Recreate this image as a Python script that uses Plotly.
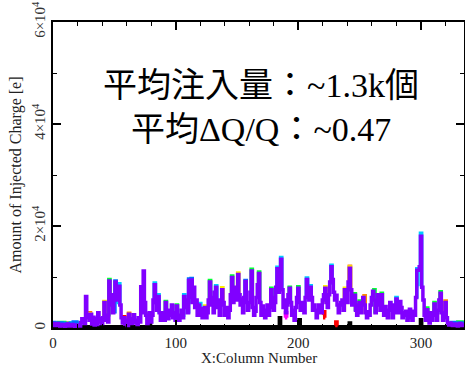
import plotly.graph_objects as go

# ---------------- data ----------------
columns = list(range(336))
purple_vals = [
    900, 700, 500, 700, 900, 600, 400, 550, 700, 500,
    300, 550, 800, 600, 400, 550, 700, 500, 300, 450,
    600, 500, 400, 1100, 1800, 1300, 900, 6200, 2000, 2600,
    1500, 2700, 800, 2100, 600, 1800, 700, 3000, 1200, 1800,
    900, 2000, 5000, 1500, 2500, 1200, 9200, 4500, 6500, 3000,
    6000, 9000, 5500, 7500, 8200, 4500, 2000, 1000, 2000, 800,
    1500, 500, 2700, 1200, 900, 1800, 2600, 1000, 1500, 700,
    2000, 1200, 8100, 3000, 11200, 5000, 2500, 900, 2400, 3000,
    1200, 2500, 5500, 8500, 5000, 3500, 6200, 3000, 1500, 2500,
    3000, 1500, 5000, 3500, 1800, 2500, 3500, 4500, 2000, 3000,
    1500, 4300, 2500, 1500, 2500, 3500, 2000, 6200, 4000, 5500,
    3000, 9300, 6000, 9400, 5000, 8000, 4000, 5500, 2500, 4500,
    2500, 3800, 2000, 3500, 4000, 2000, 3000, 5500, 9000, 4500,
    6000, 3000, 7000, 8000, 4000, 5500, 2500, 4500, 7500, 5000,
    2500, 3000, 4000, 2000, 3500, 6500, 9900, 5000, 6500, 8000,
    5500, 10500, 6500, 4500, 5700, 3000, 6000, 9100, 5000, 3500,
    5000, 7000, 11200, 4000, 2500, 3300, 6000, 8500, 10700, 5000,
    2500, 4300, 3000, 2000, 3500, 4500, 2500, 4000, 7500, 6000,
    3500, 5000, 8000, 11600, 7000, 9000, 13500, 7500, 4000, 5500,
    3000, 4500, 6500, 7800, 5000, 2500, 3500, 1500, 4000, 6000,
    7800, 5000, 3500, 4500, 5000, 3000, 6000, 9500, 7000, 5500,
    8000, 6000, 3500, 4500, 3500, 2000, 3000, 4500, 4500, 3000,
    5500, 6500, 7800, 5000, 4000, 6500, 9000, 12000, 9500, 7000,
    5500, 6400, 4500, 3000, 4500, 5000, 5500, 3500, 7500, 6000,
    5000, 9000, 11700, 7500, 4500, 5500, 6400, 3500, 2500, 4500,
    5000, 3000, 4500, 6000, 4500, 3000, 2000, 3200, 2500, 4500,
    6000, 7200, 5500, 3000, 4500, 6500, 5000, 3500, 6500, 4000,
    2500, 4200, 3000, 2000, 3500, 5000, 3500, 2000, 4500, 3000,
    5700, 4000, 3000, 5200, 4000, 2000, 3000, 2500, 3300, 1500,
    2500, 3700, 2000, 1500, 3300, 2500, 6000, 11300, 11300, 12000,
    18000, 8000, 5500, 2500, 1500, 3600, 2000, 1000, 3000, 1500,
    2500, 4700, 3000, 1500, 3500, 5500, 6800, 3000, 1500, 3000,
    5000, 2000, 1000, 600, 1000, 700, 500, 650, 800, 600,
    400, 650, 900, 700, 500, 600,
]

black_cols = [0, 78, 79, 80, 184, 185, 186, 200, 201, 202, 241, 242, 243, 299, 300, 301, 335]
black_vals = [250, 250, 2800, 250, 250, 2000, 250, 250, 1600, 250, 250, 1000, 250, 250, 1600, 250, 250]

cyan_cols = [0, 4, 8, 12, 16, 20, 24, None, 52, 53, 54, 55, None, 82, 83, 84, None, 85, 86, 87, None,
             106, 107, 108, None, 119, 120, 121, None, 132, 133, 134, None, 182, 183, 184, None,
             185, 186, 187, None, 206, 207, 208, None, 209, 210, 211, None, 226, 227, 228, None,
             279, 280, 281, None, 296, 297, 298, None, 299, 300, 301]
cyan_vals = [1000, 700, 900, 600, 1000, 700, 900, None, 5000, 8000, 8700, 4800, None, 5000, 8800, 5200, None,
             3800, 6500, 3200, None, 2500, 6500, 4200, None, 2800, 4800, 3000, None, 6500, 8300, 4200, None,
             7500, 11900, 7500, None, 9000, 13800, 7800, None, 6000, 9800, 7200, None, 5800, 8300, 6200, None,
             8800, 12300, 9800, None, 3200, 6000, 4200, None, 6200, 11600, 8200, None, 12200, 18600, 8200]

blue_cols = [0, 3, 6, 9, 12, 15, 18, 21, None, 50, 51, 52, None, 110, 111, 112, None, 112, 113, 114, None,
             156, 157, 158, None, 323, 326, 329, 332, 335]
blue_vals = [1100, 600, 1000, 500, 900, 600, 1200, 700, None, 3200, 9200, 5600, None, 3200, 9600, 6200, None,
             6000, 9700, 5200, None, 6200, 9300, 5200, None, 900, 1100, 600, 1000, 700]

green_cols = [2, 7, 12, 17, 22, None, 45, 46, 47, None, 91, 92, 93, None, 100, 101, 102, None, 127, 128, 129, None,
              145, 146, 147, None, 161, 162, 163, None, 167, 168, 169, None, 177, 178, 179, None,
              192, 193, 194, None, 199, 200, 201, None, 245, 246, 247, None, 249, 250, 251, None,
              261, 262, 263, None, 267, 268, 269, None, 304, 305, 306, None, 310, 311, 312, None,
              315, 316, 317, None, 324, 328, 332, 335]
green_vals = [800, 1100, 700, 1000, 900, None, 2600, 9500, 4700, None, 1600, 5200, 3700, None, 1600, 4500, 2600, None,
              5600, 9300, 4700, None, 6600, 10200, 5200, None, 7200, 11500, 4200, None, 8700, 11000, 5200, None,
              4200, 7800, 6200, None, 6700, 8000, 5200, None, 6200, 8100, 5200, None, 5600, 6700, 3700, None,
              4600, 5300, 3200, None, 5700, 7500, 3200, None, 3700, 6800, 4200, None, 1700, 3900, 2200, None,
              2700, 5000, 3200, None, 5700, 7100, 3200, None, 1000, 800, 1200, 700]

yellow_cols = [29, 30, 31, None, 41, 42, 43, None, 123, 124, 125, None, 137, 138, 139, None, 150, 151, 152, None,
               221, 222, 223, None, 237, 238, 239, None, 241, 242, 243]
yellow_vals = [2700, 2900, 2800, None, 1700, 5200, 1700, None, 3700, 4300, 2200, None, 4700, 7900, 5200, None,
               5700, 10800, 6700, None, 6700, 8100, 5200, None, 3700, 7800, 6200, None, 9200, 11950, 7700]

orange_cols = [5, 10, 15, 20, None, 61, 62, 63, None, 241, 242, 243, None, 253, 254, 255, None, 319, 320, 321,
               None, 326, 330, 334]
orange_vals = [700, 1000, 600, 900, None, 1300, 2900, 1300, None, 9300, 12100, 7700, None, 4700, 6300, 3200, None,
               3200, 5300, 2200, None, 900, 600, 1000]

red_cols = [29, 30, 31, None, 57, 58, 59, None, 220, 221, 222, None, 230, 231, 232]
red_vals = [2700, 3000, 1600, None, 1000, 2200, 900, None, 2600, 3200, 2000, None, 500, 1200, 500]

magenta_cols = [1, 4, 7, None, 189, 190, 191]
magenta_vals = [600, 900, 500, None, 2000, 3000, 2000]

y_tick_vals = [0, 20000, 40000, 60000]
y_tick_text = ["0", "2×10<sup>4</sup>", "4×10<sup>4</sup>", "6×10<sup>4</sup>"]
x_tick_vals = [0, 100, 200, 300]

x_title = "X:Column Number"
y_title = "Amount of Injected Charge [e]"
line1 = "平均注入量：~1.3k個"
line2 = "平均ΔQ/Q：~0.47"

# ---------------- figure ----------------
SERIF = "Liberation Serif, Times New Roman, serif"
TEXTFONT = "Liberation Serif, Noto Sans CJK JP, serif"

fig = go.Figure()

series = [
    (black_cols, black_vals, "#000000"),
    (magenta_cols, magenta_vals, "#ff00ff"),
    (red_cols, red_vals, "#ff0000"),
    (orange_cols, orange_vals, "#ff8c00"),
    (yellow_cols, yellow_vals, "#ffee00"),
    (green_cols, green_vals, "#00ff33"),
    (cyan_cols, cyan_vals, "#00ccff"),
    (blue_cols, blue_vals, "#0070ff"),
]
for xs, ys, col in series:
    fig.add_trace(go.Scatter(x=xs, y=ys, mode="lines", line=dict(color=col, width=3.5, shape="hvh"),
                             connectgaps=False, showlegend=False, hoverinfo="skip"))

fig.add_trace(go.Scatter(x=columns, y=purple_vals, mode="lines",
                         line=dict(color="#8000ff", width=3.5, shape="hvh"), showlegend=False, hoverinfo="skip"))

fig.update_layout(
    width=465, height=366,
    margin=dict(l=53, r=1, t=22, b=38),
    paper_bgcolor="white", plot_bgcolor="white",
    font=dict(family=SERIF, color="black"),
    xaxis=dict(
        range=[0, 335], tickvals=x_tick_vals, ticks="inside", ticklen=8, tickwidth=1.5,
        tickcolor="black", showline=True, linecolor="black", linewidth=2, mirror="allticks",
        showgrid=False, zeroline=False,
        minor=dict(dtick=20, tick0=0, ticks="inside", ticklen=4, tickwidth=1.2, tickcolor="black", showgrid=False),
        tickfont=dict(family=SERIF, size=15, color="#222222"),
        automargin=False,
    ),
    yaxis=dict(
        range=[0, 60000], tickvals=y_tick_vals, ticktext=y_tick_text, tickangle=-90,
        ticks="inside", ticklen=8, tickwidth=1.5, tickcolor="black",
        showline=True, linecolor="black", linewidth=2, mirror="allticks",
        showgrid=False, zeroline=False,
        minor=dict(dtick=10000, tick0=0, ticks="inside", ticklen=4, tickwidth=1.2, tickcolor="black", showgrid=False),
        tickfont=dict(family=SERIF, size=15, color="#333333"),
        title=dict(text=y_title, font=dict(family=SERIF, size=16, color="#222222"), standoff=4),
        automargin=False,
    ),
)

fig.add_annotation(text=x_title, xref="paper", yref="paper", x=0.5, y=-0.097,
                   xanchor="center", yanchor="middle", showarrow=False,
                   font=dict(family=SERIF, size=15, color="#222222"))
fig.add_annotation(text=line1, xref="paper", yref="paper", x=0.506, y=0.794,
                   xanchor="center", yanchor="middle", showarrow=False,
                   font=dict(family=TEXTFONT, size=34, color="black"))
fig.add_annotation(text=line2, xref="paper", yref="paper", x=0.506, y=0.650,
                   xanchor="center", yanchor="middle", showarrow=False,
                   font=dict(family=TEXTFONT, size=34, color="black"))

fig.write_html("out.html")
